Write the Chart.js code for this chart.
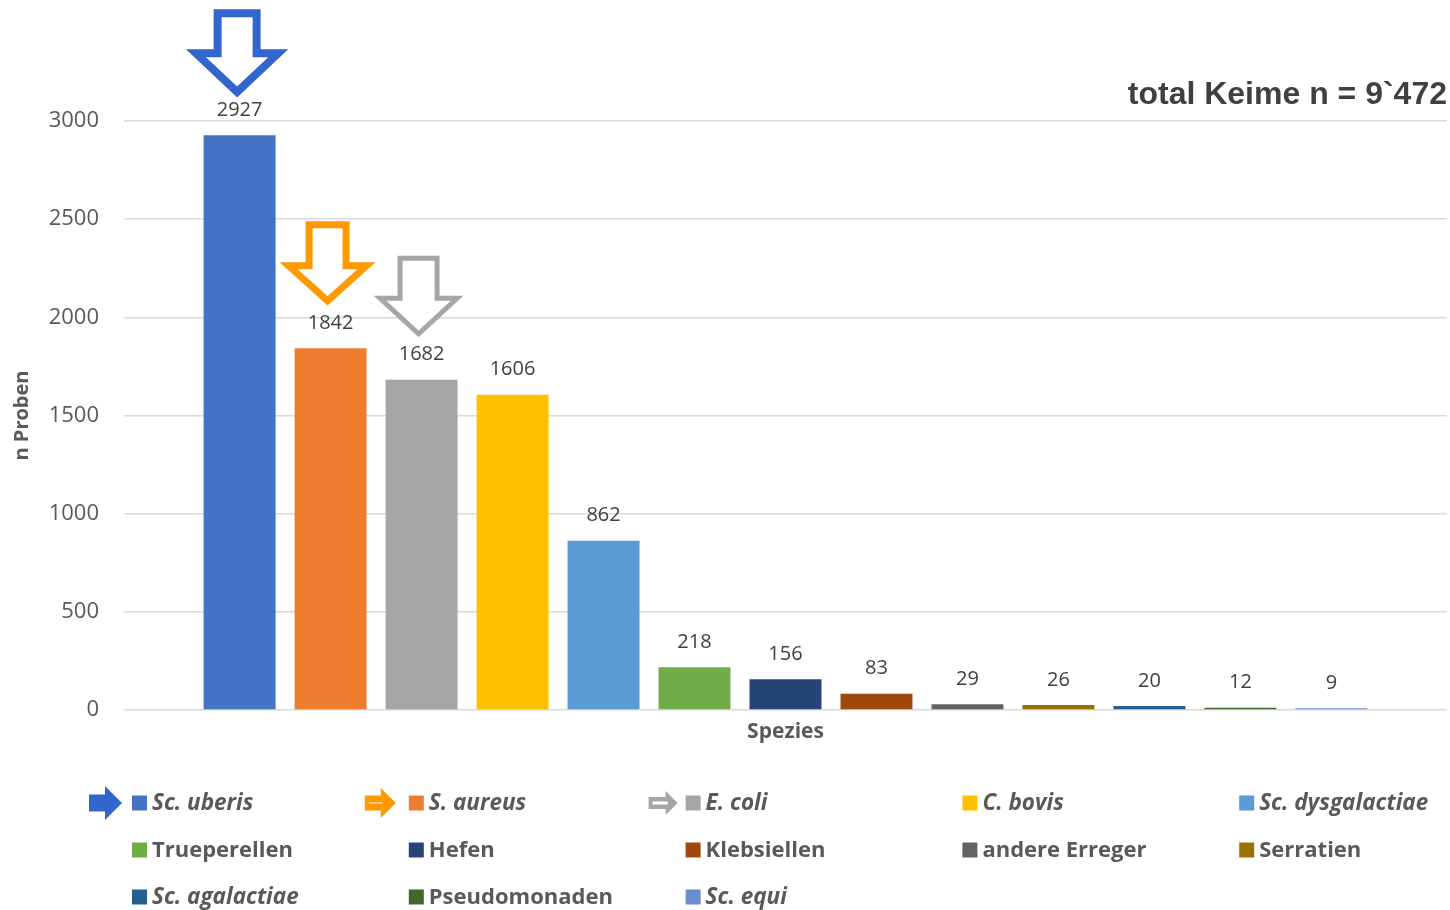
<!DOCTYPE html>
<html>
<head>
<meta charset="utf-8">
<script src="https://cdn.jsdelivr.net/npm/chart.js@4"></script>
<style>
  html, body { margin: 0; padding: 0; background: #ffffff; }
  #wrap { width: 1450px; height: 910px; }
</style>
</head>
<body>
<div id="wrap"><canvas id="c" width="1450" height="910"></canvas></div>
<script>
// ---- data ----
const categories = ['Spezies'];
const species = ['Sc. uberis', 'S. aureus', 'E. coli', 'C. bovis', 'Sc. dysgalactiae',
  'Trueperellen', 'Hefen', 'Klebsiellen', 'andere Erreger', 'Serratien',
  'Sc. agalactiae', 'Pseudomonaden', 'Sc. equi'];
const counts = [2927, 1842, 1682, 1606, 862, 218, 156, 83, 29, 26, 20, 12, 9];
const yTickValues = [0, 500, 1000, 1500, 2000, 2500, 3000];
const totalLabel = 'total Keime n = 9`472';
const xTitle = 'Spezies';
const yTitle = 'n Proben';

// ---- styles ----
const colors = ['#4472C4', '#ED7D31', '#A5A5A5', '#FFC000', '#5B9BD5', '#70AD47', '#264478',
  '#9E480E', '#636363', '#997300', '#255E91', '#43682B', '#698ED0'];
const italicNames = new Set(['Sc. uberis', 'S. aureus', 'E. coli', 'C. bovis', 'Sc. dysgalactiae',
  'Sc. agalactiae', 'Sc. equi']);
const bigArrows = [
  { idx: 0, color: '#3366CC', lw: 8, w: 95, h: 89, shaftW: 47, headH: 49, dx: -2.5, gap: 37 },
  { idx: 1, color: '#FF9900', lw: 7, w: 89, h: 85, shaftW: 44, headH: 44, dx: -3, gap: 42 },
  { idx: 2, color: '#A6A6A6', lw: 5, w: 85, h: 82, shaftW: 42, headH: 42, dx: -3, gap: 42 }
];
const legendArrows = [
  { idx: 0, color: '#3366CC', w: 33, h: 34, shaftH: 17, headL: 17, gapR: 10, stripe: 0 },
  { idx: 1, color: '#FF9900', w: 31, h: 30, shaftH: 15, headL: 15, gapR: 13, stripe: 1 },
  { idx: 2, color: '#A6A6A6', w: 29, h: 24, shaftH: 12, headL: 12, gapR: 8, stripe: 3 }
];

const FONT = "'Open Sans', 'DejaVu Sans', sans-serif";

const decorPlugin = {
  id: 'decor',
  afterDatasetsDraw(chart) {
    const ctx = chart.ctx;
    ctx.save();
    // value labels
    ctx.font = '20px ' + FONT;
    ctx.fillStyle = '#404040';
    ctx.textAlign = 'center';
    ctx.textBaseline = 'middle';
    chart.data.datasets.forEach((ds, i) => {
      const el = chart.getDatasetMeta(i).data[0];
      if (!el) return;
      ctx.fillText(String(ds.data[0]), el.x, el.y - 25);
    });
    // hollow down arrows above first bars
    bigArrows.forEach(a => {
      const el = chart.getDatasetMeta(a.idx).data[0];
      const cx = el.x + a.dx;
      const tip = el.y - a.gap;
      const ins = a.lw / 2;
      const top = tip - a.h + ins;
      const headY = tip - a.headH + ins;
      const hw = a.w / 2 - ins * 1.6;
      const sw = a.shaftW / 2 - ins;
      const tipY = tip - ins * 1.6;
      ctx.beginPath();
      ctx.moveTo(cx - sw, top);
      ctx.lineTo(cx + sw, top);
      ctx.lineTo(cx + sw, headY);
      ctx.lineTo(cx + hw, headY);
      ctx.lineTo(cx, tipY);
      ctx.lineTo(cx - hw, headY);
      ctx.lineTo(cx - sw, headY);
      ctx.closePath();
      ctx.fillStyle = '#ffffff';
      ctx.fill();
      ctx.lineWidth = a.lw;
      ctx.lineJoin = 'miter';
      ctx.strokeStyle = a.color;
      ctx.stroke();
    });
    ctx.restore();
  },
  afterDraw(chart) {
    const ctx = chart.ctx;
    ctx.save();
    const colW = 276.8;
    const x0 = chart.chartArea.left + 8;
    const y0 = 803;
    const rowH = 47;
    const boxes = [];
    chart.data.datasets.forEach((ds, i) => {
      const col = i % 5, row = Math.floor(i / 5);
      const bx = x0 + col * colW;
      const cy = y0 + row * rowH;
      boxes.push({ bx, cy });
      ctx.fillStyle = ds.backgroundColor;
      ctx.fillRect(bx, cy - 7.5, 15, 15);
      const it = italicNames.has(ds.label);
      ctx.font = (it ? 'italic bold 22.5px ' : 'bold 22px ') + FONT;
      ctx.fillStyle = '#595959';
      ctx.textAlign = 'left';
      ctx.textBaseline = 'middle';
      ctx.fillText(ds.label, bx + 20, cy + 1);
    });
    legendArrows.forEach(a => {
      const { bx, cy } = boxes[a.idx];
      const right = bx - a.gapR;
      const left = right - a.w;
      const headX = right - a.headL;
      ctx.beginPath();
      ctx.moveTo(left, cy - a.shaftH / 2);
      ctx.lineTo(headX, cy - a.shaftH / 2);
      ctx.lineTo(headX, cy - a.h / 2);
      ctx.lineTo(right, cy);
      ctx.lineTo(headX, cy + a.h / 2);
      ctx.lineTo(headX, cy + a.shaftH / 2);
      ctx.lineTo(left, cy + a.shaftH / 2);
      ctx.closePath();
      ctx.fillStyle = a.color;
      ctx.fill();
      if (a.stripe) {
        ctx.fillStyle = '#ffffff';
        ctx.fillRect(left + 4, cy - a.stripe / 2, a.w - a.headL - 2, a.stripe);
      }
    });
    ctx.restore();
  }
};

const datasets = species.map((name, i) => ({
  label: name,
  data: [counts[i]],
  backgroundColor: colors[i],
  borderWidth: 0
}));

new Chart(document.getElementById('c'), {
  type: 'bar',
  data: { labels: categories, datasets },
  options: {
    responsive: false,
    animation: false,
    devicePixelRatio: 1,
    layout: { padding: { left: 0, right: 3, top: 0, bottom: 160 } },
    datasets: { bar: { categoryPercentage: 0.894, barPercentage: 0.791 } },
    plugins: {
      legend: { display: false },
      tooltip: { enabled: false },
      title: {
        display: true,
        text: totalLabel,
        align: 'end',
        color: '#404040',
        font: { family: "'Liberation Sans', Arial, sans-serif", size: 32, weight: 'bold' },
        padding: { top: 76, bottom: 6.6 }
      }
    },
    scales: {
      x: {
        grid: { display: false },
        border: { display: false },
        ticks: { display: false },
        title: {
          display: true,
          text: xTitle,
          color: '#595959',
          font: { family: FONT, size: 21, weight: 'bold' },
          padding: { top: 4, bottom: 5 }
        },
        afterFit(s) { s.height = 40; }
      },
      y: {
        min: 0,
        max: 3000,
        afterBuildTicks(s) { s.ticks = yTickValues.map(v => ({ value: v })); },
        ticks: {
          color: '#595959',
          font: { family: FONT, size: 22 },
          padding: 25,
          callback: v => String(v)
        },
        grid: { color: '#D9D9D9', lineWidth: 1.5, drawTicks: false },
        border: { display: false },
        title: {
          display: true,
          text: yTitle,
          color: '#595959',
          font: { family: FONT, size: 20, weight: 'bold' },
          padding: { top: 10, bottom: 0 }
        },
        afterFit(s) { s.width = 124; }
      }
    }
  },
  plugins: [decorPlugin]
});
</script>
</body>
</html>
